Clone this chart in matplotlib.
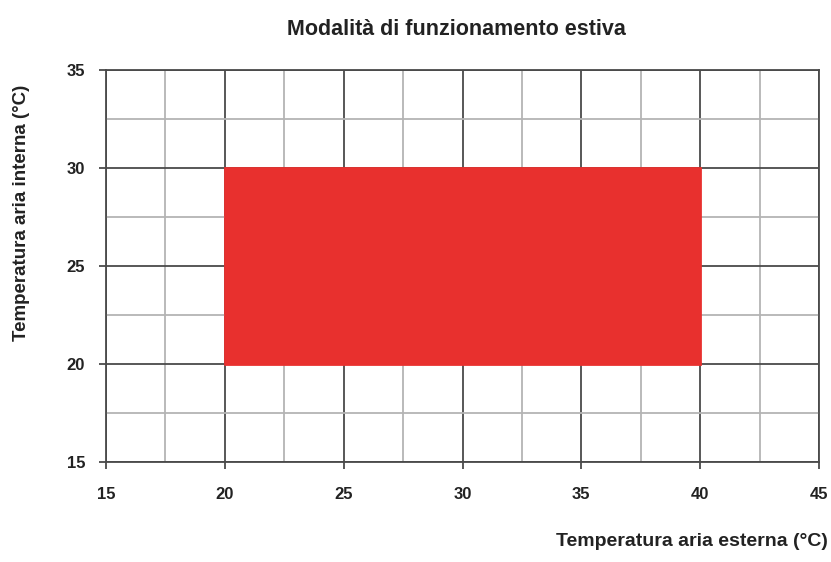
import matplotlib
matplotlib.use('Agg')
import matplotlib.pyplot as plt
from matplotlib.patches import Rectangle
from matplotlib.ticker import MultipleLocator

plt.rcParams['font.family'] = ['Liberation Sans', 'DejaVu Sans']

# operating range (summer mode)
t_ext_range = [20, 40]   # outdoor air temperature
t_int_range = [20, 30]   # indoor air temperature

x_lim = [15, 45]
y_lim = [15, 35]
x_ticks = [15, 20, 25, 30, 35, 40, 45]
y_ticks = [15, 20, 25, 30, 35]

title = 'Modalità di funzionamento estiva'
xlabel = 'Temperatura aria esterna (°C)'
ylabel = 'Temperatura aria interna (°C)'

fig = plt.figure(figsize=(8.31, 5.62), dpi=100)
ax = fig.add_axes([0.1276, 0.178, 0.858, 0.6974])

ax.set_xlim(x_lim)
ax.set_ylim(y_lim)
ax.set_xticks(x_ticks)
ax.set_yticks(y_ticks)
ax.xaxis.set_minor_locator(MultipleLocator(2.5))
ax.yaxis.set_minor_locator(MultipleLocator(2.5))
ax.grid(which='major', color='#4a4a4a', linewidth=1.3)
ax.grid(which='minor', color='#b4b4b4', linewidth=1.3)
ax.set_axisbelow(True)

ax.add_patch(Rectangle((t_ext_range[0], t_int_range[0]),
                       t_ext_range[1] - t_ext_range[0],
                       t_int_range[1] - t_int_range[0],
                       facecolor='#e8302e', edgecolor='#e8302e', linewidth=2, zorder=2))

for s in ax.spines.values():
    s.set_color('#4a4a4a')
    s.set_linewidth(1.3)
ax.tick_params(which='major', length=5, width=1.3, color='#4a4a4a',
               labelsize=12, labelcolor='#222222')
ax.tick_params(axis='x', pad=13)
ax.tick_params(axis='y', pad=10)
ax.tick_params(which='minor', length=0)
for lab in ax.get_xticklabels() + ax.get_yticklabels():
    lab.set_fontweight('bold')

fig.text(0.549, 0.948, title, ha='center', va='center', fontsize=15.5,
         fontweight='bold', color='#222222')
fig.text(0.996, 0.037, xlabel, ha='right', va='center', fontsize=14,
         fontweight='bold', color='#222222')
fig.text(0.026, 0.621, ylabel, ha='center', va='center', rotation=90,
         fontsize=13.5, fontweight='bold', color='#222222')

fig.savefig('out.png', dpi=100)
